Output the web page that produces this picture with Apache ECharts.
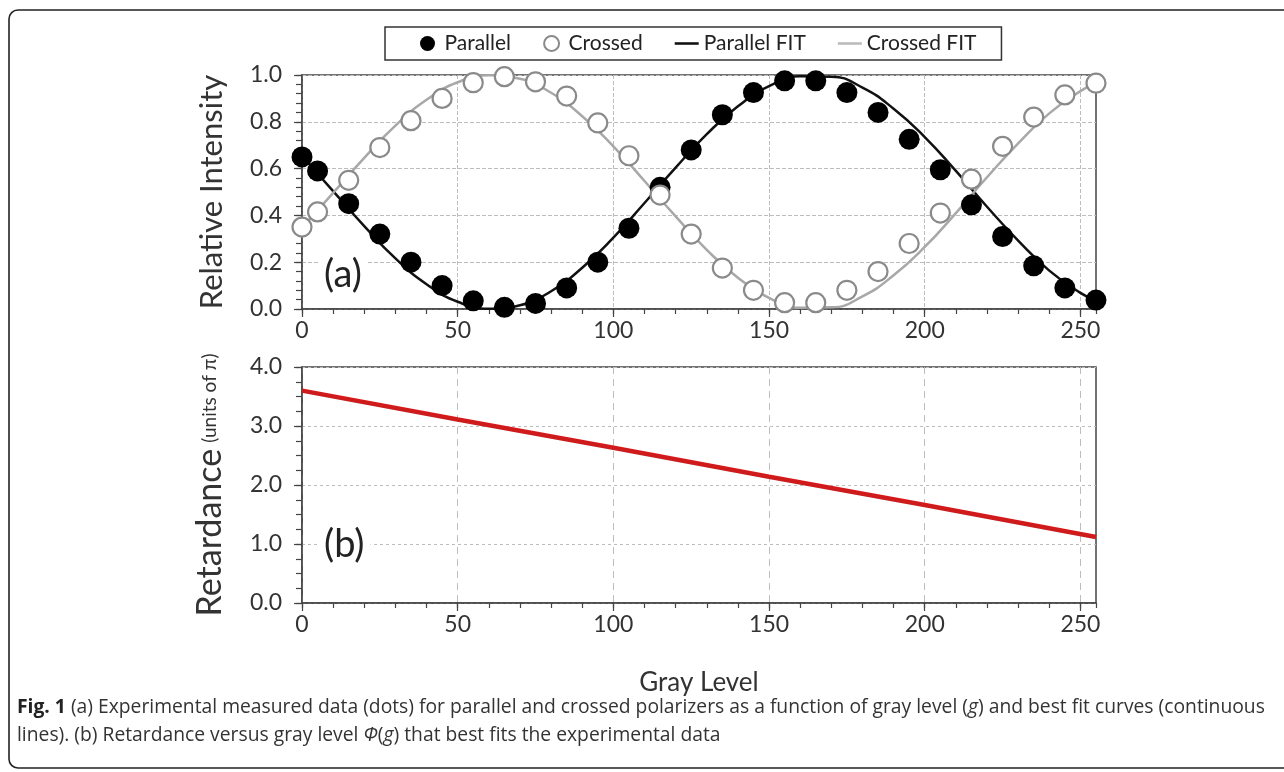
<!DOCTYPE html>
<html>
<head>
<meta charset="utf-8">
<title>Fig. 1</title>
<script src="https://cdn.jsdelivr.net/npm/echarts@6/dist/echarts.min.js"></script>
<style>
  html, body { margin: 0; padding: 0; background: #fff; }
  #chart { width: 1284px; height: 772px; }
</style>
</head>
<body>
<div id="chart"></div>
<script>
// measured points (gray level, relative intensity)
var grayLevels = [0, 5, 15, 25, 35, 45, 55, 65, 75, 85, 95, 105, 115, 125, 135, 145, 155, 165, 175, 185, 195, 205, 215, 225, 235, 245, 255];
var parallel = [0.65, 0.59, 0.45, 0.32, 0.20, 0.10, 0.035, 0.007, 0.024, 0.09, 0.20, 0.345, 0.52, 0.68, 0.83, 0.925, 0.975, 0.975, 0.925, 0.84, 0.725, 0.595, 0.445, 0.31, 0.185, 0.09, 0.038];
var crossed = [0.35, 0.415, 0.55, 0.69, 0.805, 0.90, 0.967, 0.993, 0.971, 0.91, 0.795, 0.655, 0.487, 0.32, 0.175, 0.08, 0.027, 0.027, 0.08, 0.16, 0.28, 0.41, 0.555, 0.695, 0.82, 0.915, 0.965];

// best fit curves
var fitLevels = [0, 10, 20, 30, 40, 50, 60, 70, 80, 90, 100, 110, 120, 130, 140, 150, 160, 170, 180, 190, 200, 210, 220, 230, 240, 250, 255];
var parallelFit = [0.654, 0.504, 0.354, 0.216, 0.106, 0.031, 0.001, 0.016, 0.076, 0.176, 0.305, 0.453, 0.604, 0.747, 0.866, 0.952, 0.995, 0.993, 0.946, 0.856, 0.735, 0.590, 0.437, 0.292, 0.164, 0.069, 0.035];
var crossedFit = [0.346, 0.496, 0.646, 0.784, 0.894, 0.969, 0.999, 0.984, 0.924, 0.824, 0.695, 0.547, 0.396, 0.253, 0.134, 0.048, 0.005, 0.007, 0.054, 0.144, 0.265, 0.410, 0.563, 0.708, 0.836, 0.931, 0.965];

// retardance (units of pi)
var retLevels = [0, 50, 100, 150, 200, 255];
var retardance = [3.60, 3.11, 2.63, 2.14, 1.66, 1.12];

var xTicks = [0, 50, 100, 150, 200, 250];

function pairs(xs, ys) {
    var out = [];
    for (var i = 0; i < xs.length; i++) {
        out.push([xs[i], ys[i]]);
    }
    return out;
}

var labelFont = 'Lato, "Open Sans", sans-serif';
var axisColor = '#444';
var gridColor = '#bdbdbd';
var lineIcon = 'path://M0,0 L28,0 L28,3 L0,3 Z';

function mainX(gridIndex, splitType) {
    return {
        type: 'value', gridIndex: gridIndex, min: 0, max: 255, interval: 50,
        axisLine: { lineStyle: { color: axisColor, width: 1.5 } },
        axisTick: { length: 8, customValues: xTicks, lineStyle: { color: axisColor, width: 1.2 } },
        axisLabel: { customValues: xTicks, margin: 10, fontSize: 23, color: '#333', fontFamily: labelFont },
        splitLine: { show: true, lineStyle: { color: gridColor, type: splitType, width: 1 } }
    };
}

function minorX(gridIndex) {
    return {
        type: 'value', gridIndex: gridIndex, min: 0, max: 255, interval: 10,
        axisLine: { show: false },
        axisTick: { inside: true, length: 5, lineStyle: { color: axisColor, width: 1.2 } },
        axisLabel: { show: false },
        splitLine: { show: false }
    };
}

function minorY(gridIndex, max, step) {
    return {
        type: 'value', gridIndex: gridIndex, min: 0, max: max, interval: step,
        axisLine: { show: false },
        axisTick: { inside: true, length: 6, lineStyle: { color: axisColor, width: 1.2 } },
        axisLabel: { show: false },
        splitLine: { show: false }
    };
}

var chart = echarts.init(document.getElementById('chart'));

chart.setOption({
    backgroundColor: '#fff',
    animation: false,
    legend: {
        left: 385, top: 27,
        padding: [6, 25, 6, 35],
        borderColor: '#333', borderWidth: 1.5,
        itemGap: 32, itemWidth: 24, itemHeight: 15,
        textStyle: { fontSize: 21, color: '#222', fontFamily: labelFont },
        data: [
            { name: 'Parallel', icon: 'circle' },
            { name: 'Crossed', icon: 'circle' },
            { name: 'Parallel FIT', icon: lineIcon, itemStyle: { color: '#111' } },
            { name: 'Crossed FIT', icon: lineIcon, itemStyle: { color: '#bbb' } }
        ]
    },
    grid: [
        { left: 302, right: 188, top: 75, height: 234, show: true, borderColor: axisColor, borderWidth: 1.5 },
        { left: 302, right: 188, top: 367, height: 236, show: true, borderColor: axisColor, borderWidth: 1.5 }
    ],
    xAxis: [
        mainX(0, 'dashed'),
        minorX(0),
        Object.assign(mainX(1, [7, 5]), {
            name: 'Gray Level', nameLocation: 'middle', nameGap: 67,
            nameTextStyle: { fontSize: 26, color: '#333', fontFamily: labelFont }
        }),
        minorX(1)
    ],
    yAxis: [
        {
            type: 'value', gridIndex: 0, min: 0, max: 1, interval: 0.2,
            name: 'Relative Intensity', nameLocation: 'middle', nameGap: 75,
            nameTextStyle: { fontSize: 31, color: '#333', fontFamily: labelFont },
            axisLine: { lineStyle: { color: axisColor, width: 1.5 } },
            axisTick: { length: 8, lineStyle: { color: axisColor, width: 1.2 } },
            axisLabel: { margin: 20, fontSize: 23, color: '#333', fontFamily: labelFont,
                formatter: function (v) { return v.toFixed(1); } },
            splitLine: { show: true, lineStyle: { color: gridColor, type: 'dashed' } }
        },
        minorY(0, 1, 0.04),
        {
            type: 'value', gridIndex: 1, min: 0, max: 4, interval: 1,
            name: '{a|Retardance}  {b|(units of π)}', nameLocation: 'middle', nameGap: 75,
            nameTextStyle: {
                color: '#333', fontFamily: labelFont,
                rich: {
                    a: { fontSize: 34, color: '#333', fontFamily: labelFont },
                    b: { fontSize: 19, color: '#333', fontFamily: labelFont }
                }
            },
            axisLine: { lineStyle: { color: axisColor, width: 1.5 } },
            axisTick: { length: 8, lineStyle: { color: axisColor, width: 1.2 } },
            axisLabel: { margin: 20, fontSize: 23, color: '#333', fontFamily: labelFont,
                formatter: function (v) { return v.toFixed(1); } },
            splitLine: { show: true, lineStyle: { color: gridColor, type: [3, 3] } }
        },
        minorY(1, 4, 0.25)
    ],
    series: [
        {
            name: 'Parallel FIT', type: 'line', xAxisIndex: 0, yAxisIndex: 0,
            data: pairs(fitLevels, parallelFit), smooth: true, symbol: 'none',
            itemStyle: { color: '#111' },
            lineStyle: { color: '#111', width: 2.5 }, z: 2
        },
        {
            name: 'Crossed FIT', type: 'line', xAxisIndex: 0, yAxisIndex: 0,
            data: pairs(fitLevels, crossedFit), smooth: true, symbol: 'none',
            itemStyle: { color: '#a8a8a8' },
            lineStyle: { color: '#a8a8a8', width: 2.5 }, z: 2
        },
        {
            name: 'Parallel', type: 'scatter', xAxisIndex: 0, yAxisIndex: 0,
            data: pairs(grayLevels, parallel), symbol: 'circle', symbolSize: 21,
            itemStyle: { color: '#000', opacity: 1 }, clip: false, z: 3
        },
        {
            name: 'Crossed', type: 'scatter', xAxisIndex: 0, yAxisIndex: 0,
            data: pairs(grayLevels, crossed), symbol: 'circle', symbolSize: 19,
            itemStyle: { color: '#fff', borderColor: '#8a8a8a', borderWidth: 2.2, opacity: 1 }, clip: false, z: 4
        },
        {
            name: 'Retardance', type: 'line', xAxisIndex: 2, yAxisIndex: 2,
            data: pairs(retLevels, retardance), symbol: 'none',
            lineStyle: { color: '#cf1b1b', width: 4.5 }, z: 2
        }
    ],
    graphic: [
        {
            type: 'rect', silent: true, z: -10,
            shape: { x: 9, y: 10, width: 1320, height: 758, r: 9 },
            style: { fill: 'none', stroke: '#222', lineWidth: 1.6 }
        },
        {
            type: 'text', left: 318, top: 256, z: 10,
            style: { text: '(a)', fontSize: 38, fill: '#222', fontFamily: labelFont,
                backgroundColor: '#fff', padding: [0, 6] }
        },
        {
            type: 'text', left: 318, top: 526, z: 10,
            style: { text: '(b)', fontSize: 38, fill: '#222', fontFamily: labelFont,
                backgroundColor: '#fff', padding: [0, 6] }
        },
        {
            type: 'text', left: 17, top: 694, z: 10,
            style: {
                text: '{b|Fig. 1} (a) Experimental measured data (dots) for parallel and crossed polarizers as a function of gray level ({i|g}) and best fit curves (continuous\n' +
                    'lines). (b) Retardance versus gray level {i|Φ}({i|g}) that best fits the experimental data',
                fontSize: 19.3, lineHeight: 28, fill: '#333', fontFamily: '"Open Sans", sans-serif',
                rich: {
                    b: { fontSize: 19.3, fontWeight: 'bold', fill: '#222', fontFamily: '"Open Sans", sans-serif' },
                    i: { fontSize: 19.3, fontStyle: 'italic', fill: '#333', fontFamily: '"Open Sans", sans-serif' }
                }
            }
        }
    ]
});
</script>
</body>
</html>
